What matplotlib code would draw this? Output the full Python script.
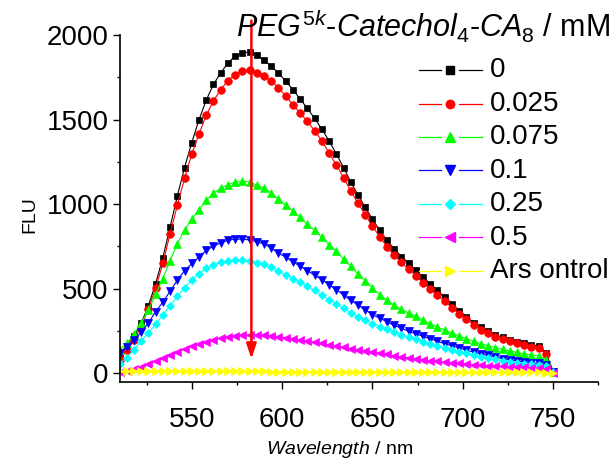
import matplotlib
matplotlib.use("Agg")
import matplotlib.pyplot as plt
from matplotlib.lines import Line2D

plt.rcParams["font.family"] = ["Liberation Sans", "DejaVu Sans"]
plt.rcParams["mathtext.fontset"] = "custom"
plt.rcParams["mathtext.rm"] = "Liberation Sans"
plt.rcParams["mathtext.it"] = "Liberation Sans:italic"

# emission spectra, 4 nm steps
wavelength = list(range(510, 751, 4))

flu_0 = [115, 160, 218, 295, 400, 530, 684, 864, 1048, 1216, 1364, 1498, 1615, 1708, 1776, 1834,
         1876, 1896, 1898, 1884, 1850, 1815, 1776, 1726, 1677, 1621, 1566, 1507, 1443, 1374, 1297,
         1216, 1131, 1054, 982, 910, 846, 786, 736, 690, 652, 609, 569, 528, 490, 451, 412, 370,
         332, 300, 272, 248, 228, 212, 198, 186, 176, 168, 162, 122, 12]
flu_0025 = [80, 135, 196, 275, 382, 503, 649, 825, 992, 1153, 1295, 1414, 1526, 1610, 1677, 1730,
            1766, 1790, 1792, 1778, 1756, 1730, 1688, 1638, 1588, 1538, 1489, 1434, 1374, 1302, 1232,
            1157, 1078, 1005, 937, 870, 807, 748, 698, 655, 615, 577, 536, 498, 460, 425, 388, 352,
            318, 288, 258, 236, 216, 202, 188, 176, 166, 158, 152, 111, 8]
flu_0075 = [140, 176, 232, 298, 372, 466, 560, 666, 765, 846, 912, 968, 1022, 1064, 1094, 1115,
            1129, 1136, 1132, 1112, 1094, 1066, 1028, 993, 960, 921, 881, 845, 803, 760, 720, 675,
            632, 588, 546, 505, 465, 432, 402, 378, 356, 336, 315, 293, 273, 255, 237, 220, 204, 189,
            175, 162, 151, 142, 132, 123, 115, 108, 103, 79, 8]
flu_01 = [118, 158, 194, 243, 298, 364, 421, 485, 550, 606, 649, 688, 726, 751, 771, 786, 793, 793,
          788, 777, 765, 740, 710, 686, 658, 633, 607, 579, 554, 523, 493, 463, 431, 404, 374, 347,
          325, 305, 283, 266, 248, 233, 218, 204, 189, 175, 162, 149, 136, 125, 115, 105, 96, 87, 79,
          72, 67, 62, 58, 50, 6]
flu_025 = [56, 92, 140, 190, 240, 290, 343, 400, 455, 505, 550, 587, 620, 640, 655, 664, 668, 668,
           662, 652, 643, 628, 605, 580, 560, 540, 514, 490, 462, 436, 411, 383, 357, 335, 315, 293,
           276, 259, 243, 228, 214, 200, 187, 174, 162, 150, 139, 128, 118, 108, 99, 90, 82, 75, 68,
           62, 57, 52, 48, 40, 5]
flu_05 = [10, 16, 25, 36, 55, 70, 88, 105, 125, 145, 160, 173, 186, 197, 207, 215, 220, 224, 226,
          226, 224, 221, 216, 210, 204, 197, 190, 183, 176, 168, 161, 154, 146, 139, 132, 125, 118,
          111, 104, 97, 91, 85, 80, 75, 70, 66, 62, 58, 54, 51, 48, 45, 42, 40, 38, 36, 34, 32, 30,
          26, 4]
flu_control = [16, 15, 15, 14, 14, 14, 13, 13, 13, 13, 12, 12, 12, 12, 12, 11, 11, 11, 11, 11, 11,
               10, 10, 10, 10, 10, 10, 9, 9, 9, 9, 9, 9, 8, 8, 8, 8, 8, 8, 7, 7, 7, 7, 7, 7, 6, 6,
               6, 6, 6, 6, 5, 5, 5, 5, 5, 5, 5, 5, 4, 2]

labels = ["0", "0.025", "0.075", "0.1", "0.25", "0.5", "Ars ontrol"]
series = [flu_0, flu_0025, flu_0075, flu_01, flu_025, flu_05, flu_control]
colors = ["#000000", "#FF0000", "#00FF00", "#0000FF", "#00FFFF", "#FF00FF", "#FFFF00"]
markers = ["s", "o", "^", "v", "D", "<", ">"]
msizes = [5.0, 5.5, 6.3, 6.3, 4.5, 6.3, 6.3]

arrow_x = 583
arrow_top, arrow_tip = 2085, 85

W, H = 614, 473
fig = plt.figure(figsize=(W / 100, H / 100), dpi=100)
ax = fig.add_axes([119.5 / W, 1 - 381.7 / H, (598.3 - 119.5) / W, (381.7 - 35) / H])

for ys, c, m, ms in zip(series, colors, markers, msizes):
    ax.plot(wavelength, ys, color=c, lw=0.8, marker=m, ms=ms, mec=c, mfc=c, mew=0.5)

ax.annotate("", xy=(arrow_x, arrow_tip), xytext=(arrow_x, arrow_top),
            arrowprops=dict(arrowstyle="-|>,head_length=0.9,head_width=0.3",
                            color="#FF0000", lw=1.8, shrinkA=0, shrinkB=0),
            annotation_clip=False)

ax.set_xlim(510, 775)
ax.set_ylim(-50, 2000)
ax.set_xticks([550, 600, 650, 700, 750])
ax.set_xticks(range(525, 776, 50), minor=True)
ax.set_yticks([0, 500, 1000, 1500, 2000])
ax.set_yticks([250, 750, 1250, 1750], minor=True)
ax.spines[["top", "right"]].set_visible(False)
for s in ("left", "bottom"):
    ax.spines[s].set_linewidth(1.2)
ax.tick_params(which="major", direction="out", length=5, width=1, labelsize=20)
ax.tick_params(which="minor", direction="out", length=2.5, width=1)
ax.tick_params(axis="x", pad=13)
ax.tick_params(axis="y", pad=3)

ax.set_xlabel(r"$\mathit{Wavelength}$ / nm", fontsize=14, va="center")
ax.xaxis.set_label_coords(0.4605, -0.197)
ax.set_ylabel("FLU", fontsize=14, va="center")
ax.yaxis.set_label_coords(-0.187, 0.481)


def px(x, y):
    return x / W, 1 - y / H


fig.text(*px(610, 38), r"$\mathit{PEG^{5k}}$-$\mathit{Catechol_4}$-$\mathit{CA_8}$ / mM",
         ha="right", va="baseline", fontsize=22)

# legend: short line, marker, short line, then the label
for i, (lab, c, m, ms) in enumerate(zip(labels, colors, markers, msizes)):
    yc = 70 + 33.5 * i
    for x0, x1 in ((419, 441), (459, 482)):
        fig.add_artist(Line2D([px(x0, yc)[0], px(x1, yc)[0]], [px(x0, yc)[1]] * 2,
                              color=c, lw=0.9, transform=fig.transFigure))
    fig.add_artist(Line2D([px(450, yc)[0]], [px(450, yc)[1]], color=c, marker=m,
                          ms=ms * 1.1, mec=c, mfc=c, transform=fig.transFigure))
    fig.text(*px(490, yc), lab, ha="left", va="center", fontsize=20)

fig.savefig("out.png", dpi=100)
